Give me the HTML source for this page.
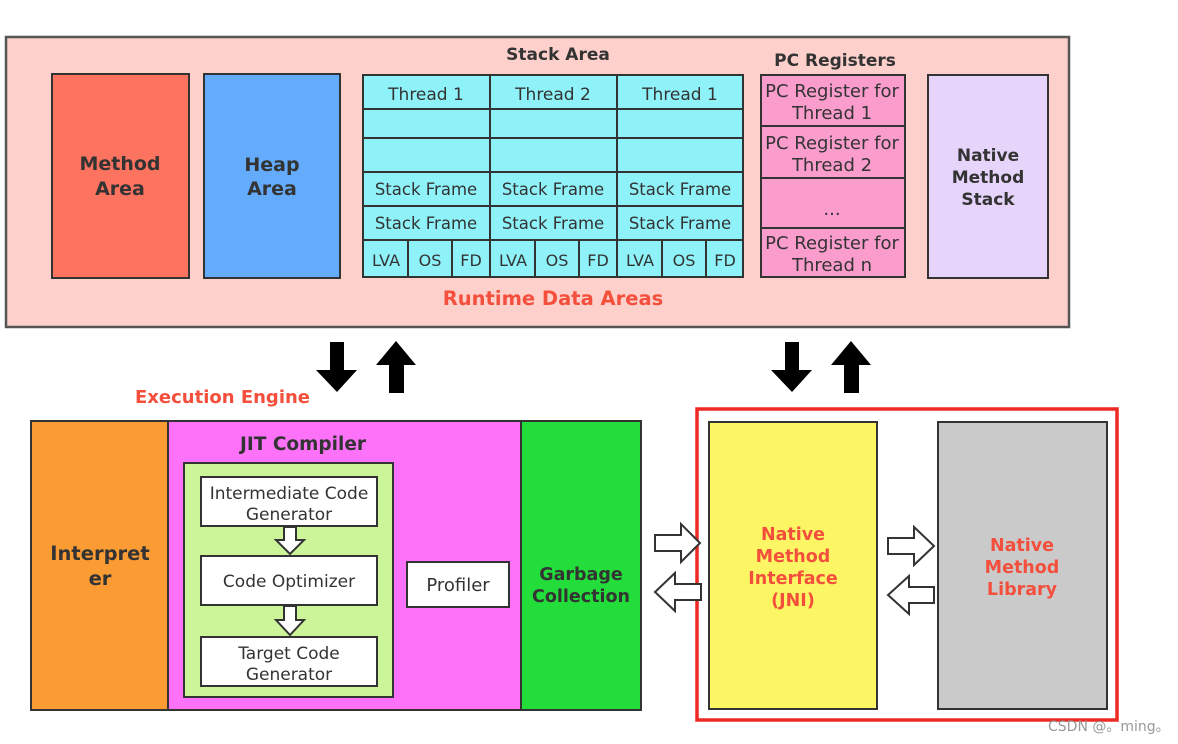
<!DOCTYPE html>
<html><head><meta charset="utf-8"><style>
html,body{margin:0;padding:0;background:#fff;}
svg{display:block;}
text{font-family:"DejaVu Sans","Liberation Sans",sans-serif;}
.b{font-weight:bold;}
</style></head><body>
<svg width="1178" height="744" viewBox="0 0 1178 744" xmlns="http://www.w3.org/2000/svg">
<rect x="0" y="0" width="1178" height="744" fill="#fff"/>
<rect x="6" y="37" width="1063" height="290" fill="#fdd0cb" stroke="#555" stroke-width="2.5"/>
<rect x="52" y="74" width="137" height="204" fill="#fc735f" stroke="#333" stroke-width="2"/>
<text x="120" y="170" text-anchor="middle" class="b" font-size="19" fill="#333">Method</text>
<text x="120" y="195" text-anchor="middle" class="b" font-size="19" fill="#333">Area</text>
<rect x="204" y="74" width="136" height="204" fill="#64acfb" stroke="#333" stroke-width="2"/>
<text x="272" y="171" text-anchor="middle" class="b" font-size="19" fill="#333">Heap</text>
<text x="272" y="195" text-anchor="middle" class="b" font-size="19" fill="#333">Area</text>
<text x="558" y="60" text-anchor="middle" class="b" font-size="17" fill="#333">Stack Area</text>
<text x="835" y="66" text-anchor="middle" class="b" font-size="17" fill="#333">PC Registers</text>
<g stroke="#333" stroke-width="2" fill="#8ef2f8">
<rect x="363" y="75" width="380" height="202"/>
<line x1="490" y1="75" x2="490" y2="277"/><line x1="617" y1="75" x2="617" y2="277"/>
<line x1="363" y1="109" x2="743" y2="109"/><line x1="363" y1="138" x2="743" y2="138"/>
<line x1="363" y1="172" x2="743" y2="172"/><line x1="363" y1="206" x2="743" y2="206"/>
<line x1="363" y1="240" x2="743" y2="240"/>
<line x1="408" y1="240" x2="408" y2="277"/><line x1="452" y1="240" x2="452" y2="277"/>
<line x1="535" y1="240" x2="535" y2="277"/><line x1="579" y1="240" x2="579" y2="277"/>
<line x1="662" y1="240" x2="662" y2="277"/><line x1="706" y1="240" x2="706" y2="277"/>
</g>
<g font-size="17" fill="#333" text-anchor="middle">
<text x="426" y="100">Thread 1</text><text x="553" y="100">Thread 2</text><text x="680" y="100">Thread 1</text>
<text x="426" y="195" font-size="16.5">Stack Frame</text><text x="553" y="195" font-size="16.5">Stack Frame</text><text x="680" y="195" font-size="16.5">Stack Frame</text>
<text x="426" y="229" font-size="16.5">Stack Frame</text><text x="553" y="229" font-size="16.5">Stack Frame</text><text x="680" y="229" font-size="16.5">Stack Frame</text>
<g font-size="16"><text x="386" y="266">LVA</text><text x="430" y="266">OS</text><text x="471" y="266">FD</text>
<text x="513" y="266">LVA</text><text x="557" y="266">OS</text><text x="598" y="266">FD</text>
<text x="640" y="266">LVA</text><text x="684" y="266">OS</text><text x="725" y="266">FD</text></g>
</g>
<g stroke="#333" stroke-width="2" fill="#fa9dcc">
<rect x="761" y="75" width="144" height="202"/>
<line x1="761" y1="126" x2="905" y2="126"/><line x1="761" y1="178" x2="905" y2="178"/><line x1="761" y1="228" x2="905" y2="228"/>
</g>
<g font-size="18" fill="#333" text-anchor="middle">
<text x="832" y="97">PC Register for</text><text x="832" y="119">Thread 1</text>
<text x="832" y="149">PC Register for</text><text x="832" y="171">Thread 2</text>
<text x="832" y="215">...</text>
<text x="832" y="249">PC Register for</text><text x="832" y="271">Thread n</text>
</g>
<rect x="928" y="75" width="120" height="203" fill="#e6d4fb" stroke="#333" stroke-width="2"/>
<g class="b" font-size="17" fill="#333" text-anchor="middle">
<text x="988" y="161">Native</text><text x="988" y="183">Method</text><text x="988" y="205">Stack</text></g>
<text x="553" y="305" text-anchor="middle" class="b" font-size="19.5" fill="#f44f3c">Runtime Data Areas</text>
<g fill="#000">
<polygon points="330,342 344,342 344,370 357,370 337,392 316,370 330,370"/>
<polygon points="389,393 404,393 404,365 416,365 396,341 376,365 389,365"/>
<polygon points="785,342 799,342 799,370 812,370 792,392 771,370 785,370"/>
<polygon points="844,393 859,393 859,365 871,365 851,341 831,365 844,365"/>
</g>
<text x="135" y="403" class="b" font-size="18" fill="#f44f3c">Execution Engine</text>
<rect x="31" y="421" width="137" height="289" fill="#fa9b34" stroke="#333" stroke-width="2"/>
<text x="100" y="560" text-anchor="middle" class="b" font-size="19.5" fill="#333">Interpret</text>
<text x="100" y="585" text-anchor="middle" class="b" font-size="19.5" fill="#333">er</text>
<rect x="168" y="421" width="353" height="289" fill="#fd72f9" stroke="#333" stroke-width="2"/>
<text x="303" y="450" text-anchor="middle" class="b" font-size="18.5" fill="#333">JIT Compiler</text>
<rect x="184" y="463" width="209" height="234" fill="#ccf59a" stroke="#333" stroke-width="2"/>
<g fill="#fff" stroke="#333" stroke-width="2">
<rect x="201" y="477" width="176" height="49"/>
<rect x="201" y="556" width="176" height="49"/>
<rect x="201" y="637" width="176" height="49"/>
<rect x="407" y="562" width="102" height="45"/>
<polygon points="284,527 296,527 296,540 304,540 290,554 276,540 284,540"/>
<polygon points="284,606 296,606 296,620 304,620 290,635 276,620 284,620"/>
</g>
<g font-size="17" fill="#333" text-anchor="middle">
<text x="289" y="499">Intermediate Code</text><text x="289" y="520">Generator</text>
<text x="289" y="587">Code Optimizer</text>
<text x="289" y="659">Target Code</text><text x="289" y="680">Generator</text>
<text x="458" y="591" font-size="18">Profiler</text>
</g>
<rect x="521" y="421" width="120" height="289" fill="#22dd3a" stroke="#333" stroke-width="2"/>
<text x="581" y="580" text-anchor="middle" class="b" font-size="17.5" fill="#333">Garbage</text>
<text x="581" y="602" text-anchor="middle" class="b" font-size="17.5" fill="#333">Collection</text>
<rect x="697" y="409" width="420" height="311" fill="#fff" stroke="#ee2a24" stroke-width="3.5"/>
<rect x="709" y="422" width="168" height="287" fill="#fdf664" stroke="#333" stroke-width="2"/>
<rect x="938" y="422" width="169" height="287" fill="#cacaca" stroke="#333" stroke-width="2"/>
<g class="b" font-size="17.5" fill="#f44f3c" text-anchor="middle">
<text x="793" y="540">Native</text><text x="793" y="562">Method</text><text x="793" y="584">Interface</text><text x="793" y="606">(JNI)</text>
<text x="1022" y="551">Native</text><text x="1022" y="573">Method</text><text x="1022" y="595">Library</text>
</g>
<g fill="#fff" stroke="#333" stroke-width="2">
<polygon points="655,535 681,535 681,524 700,543 681,562 681,551 655,551"/>
<polygon points="701,584 675,584 675,573 655,592 675,611 675,600 701,600"/>
<polygon points="888,538 914,538 914,527 934,546 914,565 914,554 888,554"/>
<polygon points="934,587 909,587 909,576 888,595 909,614 909,603 934,603"/>
</g>
<text x="1048" y="731" font-family="Liberation Sans, Noto Sans CJK SC, sans-serif" font-size="14" fill="#999">CSDN @。ming。</text>
</svg>
</body></html>
